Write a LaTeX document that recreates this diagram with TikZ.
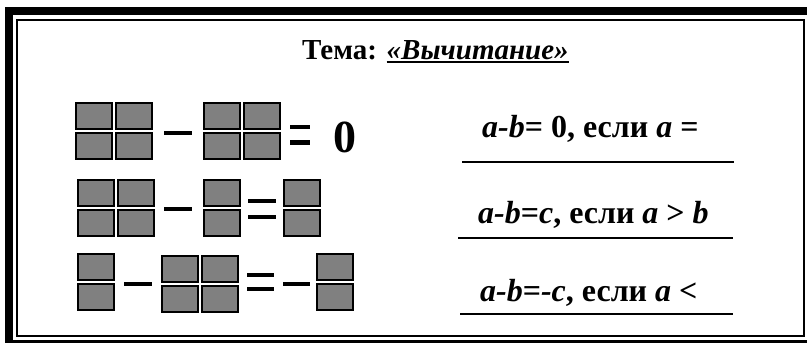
\documentclass[tikz,border=0pt]{standalone}
\usepackage{fontspec}
\setmainfont{Liberation Serif}
\definecolor{sqgray}{HTML}{808080}
\newcommand\myul[1]{\setbox0\hbox{#1}\rlap{\rule[-4pt]{\wd0}{2pt}}\box0}
\begin{document}
\begin{tikzpicture}[x=1pt,y=-1pt,
  sqr/.style={draw=black,fill=sqgray,line width=2pt},
  bar/.style={fill=black},
  frameouter/.style={draw=black,line width=8pt},
  frameinner/.style={draw=black,line width=2pt},
  uline/.style={draw=black,line width=2pt},
  txt/.style={inner sep=0pt,anchor=base west,font=\bfseries\fontsize{32}{38}\selectfont},
  ttl/.style={inner sep=0pt,anchor=base west,font=\bfseries\fontsize{29}{35}\selectfont},
  zero/.style={inner sep=0pt,anchor=base west,font=\bfseries\fontsize{46}{52}\selectfont}]
\useasboundingbox (0,0) rectangle (807,343);
\fill[white] (0,0) rectangle (807,343);
% frame
\draw[frameouter] (9,11) rectangle (811,344);
\draw[frameinner] (17,20) rectangle (803.5,336);
% square macro: outer 38 x 28
\newcommand\sq[2]{\draw[sqr] (#1+1,#2+1) rectangle (#1+37,#2+27);}
% row 1
\sq{75}{102}\sq{115}{102}\sq{75}{132}\sq{115}{132}
\fill[bar] (164,131) rectangle (192,135);
\sq{203}{102}\sq{243}{102}\sq{203}{132}\sq{243}{132}
\fill[bar] (290,124.5) rectangle (310,129);
\fill[bar] (290,140) rectangle (310,144.5);
\node[zero] (z) at (333,152) {0};
% row 2
\sq{77}{179}\sq{117}{179}\sq{77}{209}\sq{117}{209}
\fill[bar] (164,206.5) rectangle (192,210.5);
\sq{203}{179}\sq{203}{209}
\fill[bar] (248,199) rectangle (276,203);
\fill[bar] (248,215) rectangle (276,219);
\sq{283}{179}\sq{283}{209}
% row 3
\sq{77}{253}\sq{77}{283}
\fill[bar] (124,281.5) rectangle (152,285.5);
\sq{161}{255}\sq{201}{255}\sq{161}{285}\sq{201}{285}
\fill[bar] (247,273) rectangle (274,277);
\fill[bar] (247,287) rectangle (274,291);
\fill[bar] (283,281.5) rectangle (310,285.5);
\sq{316}{253}\sq{316}{283}
% title
\node[ttl] (title) at (302,59) {Тема: \myul{\itshape «Вычитание»}};
% right texts
\node[txt] (t1) at (482,137) {\textit{a-b}= 0, если \textit{a} =};
\node[txt] (t2) at (478,223) {\textit{a-b}=\textit{c}, если \textit{a} > \textit{b}};
\node[txt] (t3) at (480,301) {\textit{a-b}=\textit{-c}, если \textit{a} <};
\coordinate (l1a) at (462,162); \coordinate (l1b) at (734,162);
\coordinate (l2a) at (458,237.5); \coordinate (l2b) at (733,237.5);
\coordinate (l3a) at (460,314); \coordinate (l3b) at (733,314);
\draw[uline] (l1a) -- (l1b);
\draw[uline] (l2a) -- (l2b);
\draw[uline] (l3a) -- (l3b);
\end{tikzpicture}
\end{document}
